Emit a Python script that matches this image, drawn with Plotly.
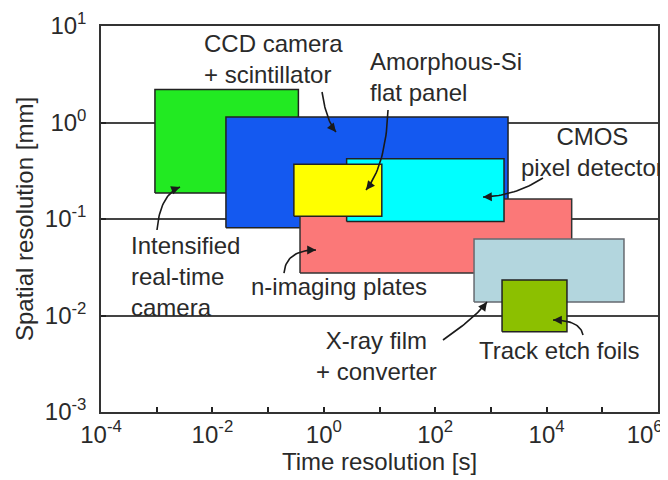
import numpy as np
import plotly.graph_objects as go

# ---------------- data ----------------
det_names = ["Intensified real-time camera", "CCD camera + scintillator", "n-imaging plates",
             "CMOS pixel detector", "Amorphous-Si flat panel", "X-ray film + converter",
             "Track etch foils"]
time_lo = [9.3e-4, 0.0175, 0.374, 2.57, 0.29, 498, 1585]
time_hi = [0.35, 2030, 28200, 1720, 11, 245000, 23200]
space_lo = [0.186, 0.081, 0.0275, 0.094, 0.107, 0.0138, 0.0068]
space_hi = [2.2, 1.14, 0.161, 0.42, 0.37, 0.062, 0.0233]
fill_colors = ["#22ea22", "#1459f0", "#fb7878", "#00ffff", "#ffff00", "#b3d6de", "#8cc000"]
edge_colors = ["#222222", "#222222", "#333333", "#222222", "#222222", "#666a70", "#222222"]

x_tickvals = [1e-4, 1e-3, 1e-2, 1e-1, 1e0, 1e1, 1e2, 1e3, 1e4, 1e5, 1e6]
x_ticktext = ["10<sup>-4</sup>", "", "10<sup>-2</sup>", "", "10<sup>0</sup>", "",
              "10<sup>2</sup>", "", "10<sup>4</sup>", "",
              "10<sup>6</sup>&nbsp;&nbsp;&nbsp;&nbsp;"]
y_tickvals = [1e-3, 1e-2, 1e-1, 1e0, 1e1]
y_ticktext = ["10<sup>-3</sup>", "10<sup>-2</sup>", "10<sup>-1</sup>", "10<sup>0</sup>", "10<sup>1</sup>"]

# labels: text, log10(x), log10(y), xanchor, align
label_text = ["CCD camera<br>+ scintillator", "Amorphous-Si<br>flat panel",
              "CMOS<br>pixel detector", "Intensified<br>real-time<br>camera",
              "n-imaging plates", "X-ray film<br>+ converter", "Track etch foils"]
label_lx = [-2.19, 0.79, 4.82, -3.50, -1.34, 0.955, 2.75]
label_ly = [0.66, 0.47, -0.31, -1.60, -1.70, -2.42, -2.36]
label_anchor = ["left", "left", "center", "left", "left", "center", "left"]

# arrows (log10 coords): tail, control, head
arr_tail = [(-0.032, 0.316), (1.153, 0.130), (3.935, -0.575), (-2.995, -1.114),
            (-0.715, -1.560), (2.140, -2.254), (4.654, -2.202)]
arr_ctrl = [(0.039, 0.026), (1.117, -0.440), (3.433, -0.762), (-2.941, -0.751),
            (-0.679, -1.321), (2.714, -2.026), (4.600, -2.047)]
arr_head = [(0.219, -0.098), (0.758, -0.699), (2.858, -0.772), (-2.582, -0.668),
            (-0.140, -1.321), (2.930, -1.860), (4.115, -2.047)]

# ---------------- figure ----------------
# the page body adds an 8px offset, so the figure is 8px smaller on each axis
W, H = 660, 472
ML, MR, MT, MB = 93, 10, 18, 68
XR = (-4, 6)
YR = (-3, 1)
px_per_dec_x = (W - ML - MR) / (XR[1] - XR[0])
px_per_dec_y = (H - MT - MB) / (YR[1] - YR[0])

fig = go.Figure()

for i in range(len(det_names)):
    xs = [time_lo[i], time_hi[i], time_hi[i], time_lo[i], time_lo[i]]
    ys = [space_lo[i], space_lo[i], space_hi[i], space_hi[i], space_lo[i]]
    fig.add_trace(go.Scatter(x=xs, y=ys, mode="lines", fill="toself",
                             fillcolor=fill_colors[i],
                             line=dict(color=edge_colors[i], width=1.5),
                             name=det_names[i], hoverinfo="name"))

annotations = []
for i in range(len(label_text)):
    annotations.append(dict(x=label_lx[i], y=label_ly[i], xref="x", yref="y",
                            text=label_text[i], showarrow=False,
                            xanchor=label_anchor[i], yanchor="middle",
                            align=label_anchor[i],
                            font=dict(size=24, color="#2a2a2a")))

t = np.linspace(0, 1, 25)
for (tx, ty), (cx, cy), (hx, hy) in zip(arr_tail, arr_ctrl, arr_head):
    bx = (1 - t) ** 2 * tx + 2 * (1 - t) * t * cx + t ** 2 * hx
    by = (1 - t) ** 2 * ty + 2 * (1 - t) * t * cy + t ** 2 * hy
    fig.add_trace(go.Scatter(x=10 ** bx, y=10 ** by, mode="lines",
                             line=dict(color="#1a1a1a", width=1.6),
                             hoverinfo="skip", showlegend=False))
    dxs = (hx - cx) * px_per_dec_x
    dys = -(hy - cy) * px_per_dec_y
    n = np.hypot(dxs, dys)
    L = 9
    annotations.append(dict(x=hx, y=hy, xref="x", yref="y", text="",
                            showarrow=True, arrowhead=2, arrowsize=1.1,
                            arrowwidth=1.6, arrowcolor="#1a1a1a",
                            ax=-dxs / n * L, ay=-dys / n * L,
                            axref="pixel", ayref="pixel"))

fig.update_layout(
    width=W, height=H,
    margin=dict(l=ML, r=MR, t=MT, b=MB, autoexpand=False),
    plot_bgcolor="white", paper_bgcolor="white",
    showlegend=False,
    font=dict(family="Liberation Sans, Arial, sans-serif", size=24, color="#2a2a2a"),
    annotations=annotations,
    xaxis=dict(type="log", range=list(XR), tickvals=x_tickvals, ticktext=x_ticktext,
               ticks="inside", ticklen=5, tickwidth=1.5, tickcolor="#222",
               showline=True, linecolor="#333", linewidth=1.5, mirror=True,
               showgrid=False, zeroline=False, automargin=False,
               ticklabeloverflow="allow",
               tickfont=dict(size=24, color="#2a2a2a"),
               title=dict(text="Time resolution [s]", standoff=5,
                          font=dict(size=24, color="#2a2a2a"))),
    yaxis=dict(type="log", range=list(YR), tickvals=y_tickvals, ticktext=y_ticktext,
               ticks="inside", ticklen=5, tickwidth=1.5, tickcolor="#222",
               showline=True, linecolor="#333", linewidth=1.5, mirror=True,
               showgrid=True, gridcolor="#444", gridwidth=1.5, zeroline=False,
               automargin=False, ticklabelstandoff=8, ticklabeloverflow="allow",
               tickfont=dict(size=24, color="#2a2a2a"),
               title=dict(text="Spatial resolution [mm]", standoff=4,
                          font=dict(size=24, color="#2a2a2a"))),
)

fig.write_html("out.html")
